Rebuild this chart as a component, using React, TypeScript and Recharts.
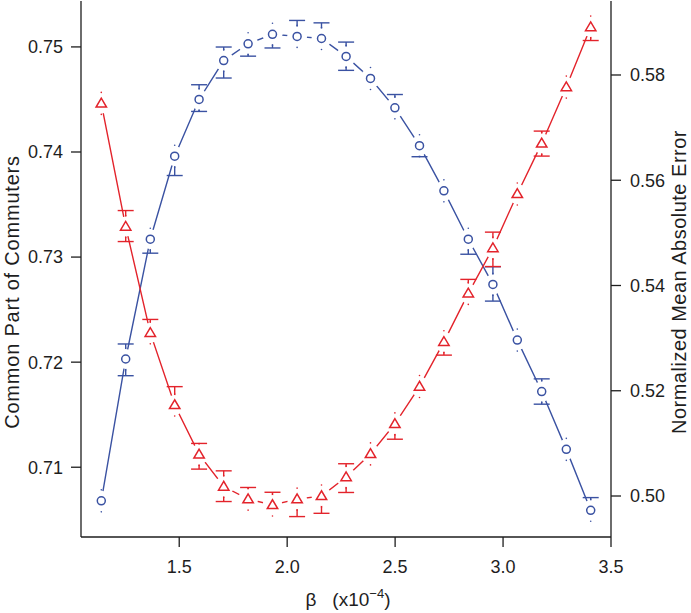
import React from 'react';
import { ComposedChart, Line, Scatter, XAxis, YAxis, ErrorBar } from 'recharts';

// beta (x10^-4)
const BETA = [1.139, 1.252, 1.366, 1.479, 1.592, 1.706, 1.819, 1.932, 2.046, 2.159, 2.273, 2.386, 2.499, 2.613, 2.726, 2.839, 2.953, 3.066, 3.179, 3.293, 3.406];
// Common Part of Commuters (left axis)
const COMMON_PART = [0.7068, 0.7203, 0.7317, 0.7396, 0.7450, 0.7487, 0.7503, 0.7512, 0.7510, 0.7508, 0.7491, 0.7470, 0.7442, 0.7406, 0.7363, 0.7317, 0.7274, 0.7221, 0.7172, 0.7117, 0.7059];
const COMMON_PART_ERR_LOW = [0.0003, 0.00159, 0.00133, 0.00184, 0.00114, 0.00166, 0.00118, 0.0013, 0.0003, 0.0003, 0.00133, 0.0003, 0.0003, 0.00105, 0.0003, 0.00143, 0.00159, 0.0003, 0.0012, 0.0003, 0.0003];
const COMMON_PART_ERR_HIGH = [0.0003, 0.00143, 0.0003, 0.0003, 0.0014, 0.00129, 0.0003, 0.0003, 0.00152, 0.00149, 0.00136, 0.0003, 0.00127, 0.0003, 0.0003, 0.0003, 0.00168, 0.0003, 0.00121, 0.0003, 0.00121];
// Normalized Mean Absolute Error (right axis)
const NMAE = [0.5746, 0.5512, 0.5310, 0.5173, 0.5079, 0.5018, 0.4994, 0.4983, 0.4994, 0.5000, 0.5036, 0.5080, 0.5137, 0.5208, 0.5293, 0.5385, 0.5471, 0.5574, 0.5670, 0.5777, 0.5891];
const NMAE_ERR_LOW = [0.0006, 0.00285, 0.0006, 0.0006, 0.00279, 0.00285, 0.0006, 0.0006, 0.00331, 0.00329, 0.00293, 0.0006, 0.00291, 0.0006, 0.00253, 0.0006, 0.0035, 0.0006, 0.00241, 0.0006, 0.00255];
const NMAE_ERR_HIGH = [0.0006, 0.00304, 0.00255, 0.00348, 0.00209, 0.00298, 0.00222, 0.00241, 0.0006, 0.0006, 0.00253, 0.0006, 0.0006, 0.0006, 0.0006, 0.00266, 0.00304, 0.0006, 0.00234, 0.0006, 0.0006];

const X_TICKS = [1.5, 2.0, 2.5, 3.0, 3.5];
const LEFT_TICKS = [0.71, 0.72, 0.73, 0.74, 0.75];
const RIGHT_TICKS = [0.50, 0.52, 0.54, 0.56, 0.58];
const X_DOMAIN = [1.045, 3.5];
const LEFT_DOMAIN = [0.70336, 0.75437];
const RIGHT_DOMAIN = [0.49221, 0.59406];

const data = BETA.map((b, i) => ({
  beta: b,
  cp: COMMON_PART[i],
  cpErr: [COMMON_PART_ERR_LOW[i], COMMON_PART_ERR_HIGH[i]],
  nmae: NMAE[i],
  nmaeErr: [NMAE_ERR_LOW[i], NMAE_ERR_HIGH[i]],
}));

const BLUE = '#3a52a2';
const RED = '#e3232b';
const INK = '#1e1e1e';
const FONT = '"Liberation Sans", Arial, Helvetica, sans-serif';

const CircleMark = (props: any) => {
  const { cx, cy } = props;
  if (cx == null || cy == null) return null;
  return (
    <g>
      <circle cx={cx} cy={cy} r={10} fill="#fff" />
      <circle cx={cx} cy={cy - 11} r={0.8} fill={BLUE} />
      <circle cx={cx} cy={cy + 11} r={0.8} fill={BLUE} />
      <circle cx={cx} cy={cy} r={4} fill="none" stroke={BLUE} strokeWidth={1.5} />
    </g>
  );
};

const TriangleMark = (props: any) => {
  const { cx, cy } = props;
  if (cx == null || cy == null) return null;
  const pts = `${cx},${cy - 5.2} ${cx - 5.2},${cy + 3.6} ${cx + 5.2},${cy + 3.6}`;
  return (
    <g>
      <circle cx={cx} cy={cy} r={10} fill="#fff" />
      <circle cx={cx} cy={cy - 11} r={0.8} fill={RED} />
      <circle cx={cx} cy={cy + 11} r={0.8} fill={RED} />
      <polygon points={pts} fill="none" stroke={RED} strokeWidth={1.5} strokeLinejoin="miter" />
    </g>
  );
};

const LeftTitle = () => (
  <text
    x={18.5}
    y={292}
    transform="rotate(-90, 18.5, 292)"
    textAnchor="middle"
    fontSize={20}
    letterSpacing={0.8}
    fontFamily={FONT}
    fill={INK}
  >
    Common Part of Commuters
  </text>
);

const RightTitle = () => (
  <text
    x={686}
    y={282}
    transform="rotate(-90, 686, 282)"
    textAnchor="middle"
    fontSize={20}
    letterSpacing={0.5}
    fontFamily={FONT}
    fill={INK}
  >
    Normalized Mean Absolute Error
  </text>
);

const XTitle = () => (
  <text x={348} y={606} textAnchor="middle" fontSize={19} fontFamily={FONT} fill={INK}>
    <tspan>β</tspan>
    <tspan>{'\u00A0\u00A0\u00A0(x10'}</tspan>
    <tspan dy={-8} fontSize={13}>{'\u2212'}4</tspan>
    <tspan dy={8} fontSize={19}>)</tspan>
  </text>
);

const tickStyle = { fill: INK, fontSize: 18, fontFamily: FONT };

export default function App() {
  return (
    <div style={{ position: 'absolute', left: 0, top: 0, background: '#fff' }}>
      <ComposedChart
        width={691}
        height={613}
        data={data}
        margin={{ top: 1, right: 0, bottom: 0, left: 0 }}
      >
        <XAxis
          dataKey="beta"
          type="number"
          domain={X_DOMAIN}
          ticks={X_TICKS}
          allowDataOverflow
          tickFormatter={(v: number) => v.toFixed(1)}
          height={76}
          tickSize={10}
          tickMargin={13}
          stroke={INK}
          strokeWidth={1.3}
          tick={tickStyle}
          label={<XTitle />}
        />
        <XAxis
          xAxisId="top"
          orientation="top"
          type="number"
          domain={X_DOMAIN}
          allowDataOverflow
          height={0}
          tick={false}
          tickLine={false}
          stroke={INK}
          strokeWidth={1.3}
        />
        <YAxis
          yAxisId="left"
          orientation="left"
          type="number"
          domain={LEFT_DOMAIN}
          ticks={LEFT_TICKS}
          allowDataOverflow
          tickFormatter={(v: number) => v.toFixed(2)}
          width={81}
          tickSize={10}
          tickMargin={8}
          stroke={INK}
          strokeWidth={1.3}
          tick={tickStyle}
          label={<LeftTitle />}
        />
        <YAxis
          yAxisId="right"
          orientation="right"
          type="number"
          domain={RIGHT_DOMAIN}
          ticks={RIGHT_TICKS}
          allowDataOverflow
          tickFormatter={(v: number) => v.toFixed(2)}
          width={80}
          tickSize={10}
          tickMargin={9}
          stroke={INK}
          strokeWidth={1.3}
          tick={tickStyle}
          label={<RightTitle />}
        />
        <Line
          yAxisId="left"
          dataKey="cp"
          type="linear"
          stroke={BLUE}
          strokeWidth={1.4}
          dot={false}
          activeDot={false}
          isAnimationActive={false}
        >
          <ErrorBar dataKey="cpErr" direction="y" width={8} stroke={BLUE} strokeWidth={1.4} isAnimationActive={false} />
        </Line>
        <Line
          yAxisId="right"
          dataKey="nmae"
          type="linear"
          stroke={RED}
          strokeWidth={1.4}
          dot={false}
          activeDot={false}
          isAnimationActive={false}
        >
          <ErrorBar dataKey="nmaeErr" direction="y" width={8} stroke={RED} strokeWidth={1.4} isAnimationActive={false} />
        </Line>
        <Scatter yAxisId="left" dataKey="cp" shape={<CircleMark />} isAnimationActive={false} />
        <Scatter yAxisId="right" dataKey="nmae" shape={<TriangleMark />} isAnimationActive={false} />
      </ComposedChart>
    </div>
  );
}
